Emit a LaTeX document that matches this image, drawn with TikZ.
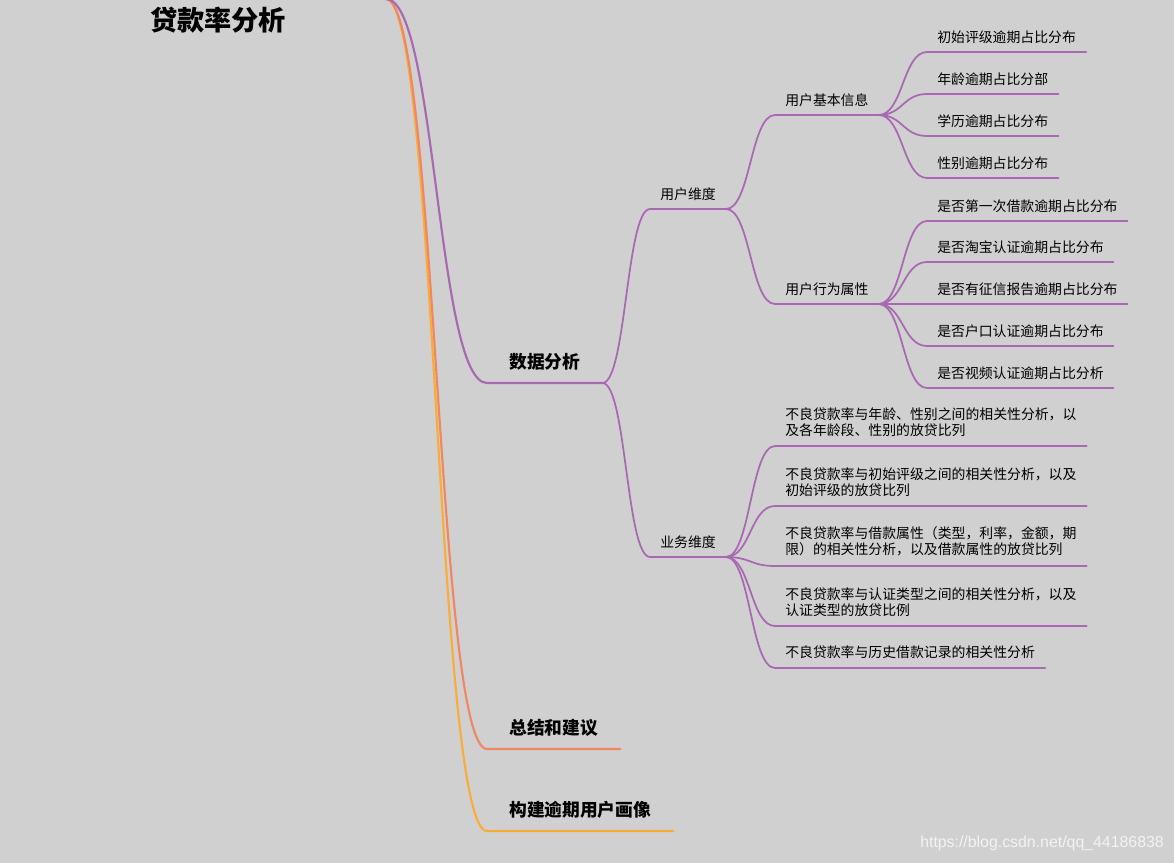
\documentclass[tikz,border=0pt]{standalone}
\usepackage{fontspec}
\setmainfont{Noto Sans CJK SC}
\newfontfamily\urlfont{Liberation Sans}
\usetikzlibrary{calc}
\definecolor{mmback}{RGB}{208,208,208}
\definecolor{mmpurple}{RGB}{168,104,178}
\definecolor{mmcoral}{RGB}{241,134,100}
\definecolor{mmorange}{RGB}{250,172,56}
\definecolor{mmurl}{RGB}{243,243,243}
\tikzset{
  roottopic/.style={font=\fontsize{20.4}{24}\selectfont\bfseries,text height=17.9pt,text depth=2.5pt,inner sep=0pt},
  maintopic/.style={anchor=south west,font=\fontsize{13.3}{16}\selectfont\bfseries,text height=11.7pt,text depth=1.6pt,inner xsep=16.5pt,inner ysep=9pt},
  subtopic/.style={anchor=south west,font=\fontsize{10.4}{12}\selectfont,text height=9.15pt,text depth=1.25pt,inner xsep=7.5pt,inner ysep=6pt},
  notetopic/.style={anchor=south west,font=\fontsize{10.4}{12}\selectfont,align=left,inner xsep=7.5pt,inner ysep=7pt},
  sbend/.style={to path={let \p1=(\tikztostart), \p2=(\tikztotarget) in
    .. controls ({0.5*\x1+0.5*\x2},\y1) and ({0.5*\x1+0.5*\x2},\y2) .. (\tikztotarget)}},
  mainlink/.style={line width=1.6pt,line cap=round},
  sublink/.style={line width=1.3pt,draw=mmpurple,line cap=round}
}

\begin{document}
\begin{tikzpicture}[x=0.75pt,y=-0.75pt]
  \fill[mmback] (0,0) rectangle (1174,863);
  \useasboundingbox (0,0) rectangle (1174,863);
  % root and main topics
  \node[roottopic] (root) at (218,20) {贷款率分析};
  \coordinate (rootout) at (386,-1);
  \node[maintopic] (data) at (487,383) {数据分析};
  \node[maintopic] (summary) at (487,749) {总结和建议};
  \node[maintopic] (portrait) at (487,831) {构建逾期用户画像};
  % second level
  \node[subtopic] (userdim) at (650,209) {用户维度};
  \node[subtopic] (bizdim) at (650,557) {业务维度};
  \node[subtopic] (basic) at (775,115) {用户基本信息};
  \node[subtopic] (behav) at (775,304) {用户行为属性};
  % user basic info
  \node[subtopic] (rating) at (927,52) {初始评级逾期占比分布};
  \node[subtopic] (age) at (927,94) {年龄逾期占比分部};
  \node[subtopic] (edu) at (927,136) {学历逾期占比分布};
  \node[subtopic] (gender) at (927,178) {性别逾期占比分布};
  % user behaviour
  \node[subtopic,text width=135pt,align=left] (firstloan) at (927,221) {是否第一次借款逾期占比分布};
  \node[subtopic,text width=124.5pt,align=left] (taobao) at (927,262) {是否淘宝认证逾期占比分布};
  \node[subtopic,text width=135pt,align=left] (credit) at (927,304) {是否有征信报告逾期占比分布};
  \node[subtopic,text width=124.5pt,align=left] (hukou) at (927,346) {是否户口认证逾期占比分布};
  \node[subtopic,text width=124.5pt,align=left] (video) at (927,388) {是否视频认证逾期占比分析};
  % business
  \node[notetopic] (noteage) at (775,446) {不良贷款率与年龄、性别之间的相关性分析，以\\及各年龄段、性别的放贷比列};
  \node[notetopic] (noterating) at (775,506) {不良贷款率与初始评级之间的相关性分析，以及\\初始评级的放贷比列};
  \node[notetopic] (noteloan) at (775,566) {不良贷款率与借款属性（类型，利率，金额，期\\限）的相关性分析，以及借款属性的放贷比列};
  \node[notetopic] (noteauth) at (775,626) {不良贷款率与认证类型之间的相关性分析，以及\\认证类型的放贷比例};
  \node[notetopic] (notehist) at (775,668) {不良贷款率与历史借款记录的相关性分析};
  % connectors
  \draw[mainlink,mmorange] (rootout) to[sbend] (portrait.south west) -- (portrait.south east);
  \draw[mainlink,mmcoral] (rootout) to[sbend] (summary.south west) -- (summary.south east);
  \draw[mainlink,mmpurple] (rootout) to[sbend] (data.south west) -- (data.south east);
  \foreach \src/\dst in {data/userdim,data/bizdim,userdim/basic,userdim/behav,
      basic/rating,basic/age,basic/edu,basic/gender,
      behav/firstloan,behav/taobao,behav/credit,behav/hukou,behav/video,
      bizdim/noteage,bizdim/noterating,bizdim/noteloan,bizdim/noteauth,bizdim/notehist}
    \draw[sublink] (\src.south east) to[sbend] (\dst.south west) -- (\dst.south east);
  \node[font=\urlfont\fontsize{11.9}{14}\selectfont,text=mmurl] (source) at (1042,843) {https://blog.csdn.net/qq\_44186838};
\end{tikzpicture}
\end{document}
